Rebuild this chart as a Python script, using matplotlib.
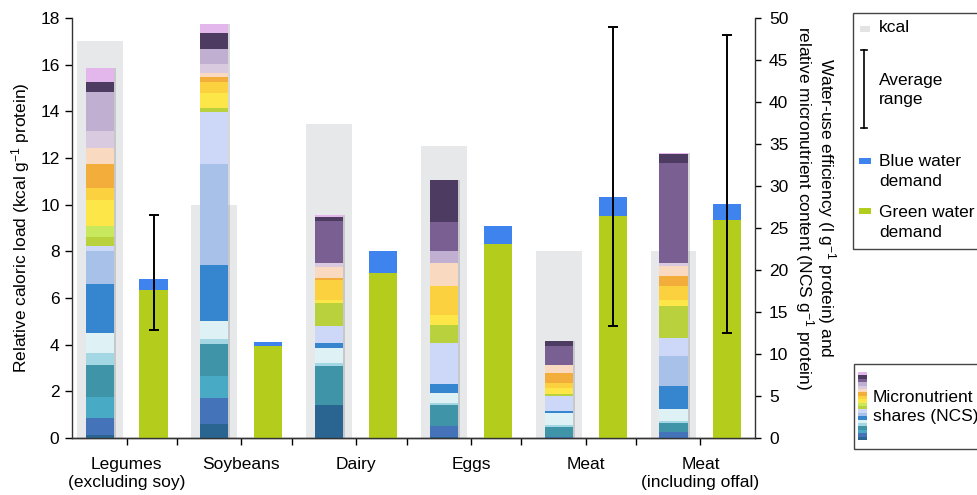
import matplotlib.pyplot as plt
from matplotlib.patches import Rectangle
from matplotlib.lines import Line2D
import numpy as np

plt.rcParams['font.family'] = ['Liberation Sans', 'DejaVu Sans']
plt.rcParams['mathtext.fontset'] = 'custom'
plt.rcParams['mathtext.rm'] = 'Liberation Sans'
plt.rcParams['mathtext.it'] = 'Liberation Sans:italic'
plt.rcParams['font.size'] = 12.5

# ===== DANE =====
foods = ['Legumes\n(excluding soy)', 'Soybeans', 'Dairy', 'Eggs', 'Meat',
         'Meat\n(including offal)']

# kcal na gram bialka (lewa os)
kcal = [17.0, 10.0, 13.45, 12.5, 8.0, 8.0]

# zuzycie wody (prawa os)
green_water = [17.6, 10.95, 19.6, 23.05, 26.4, 25.9]
blue_water = [1.3, 0.45, 2.7, 2.15, 2.3, 2.0]

# zakres sredni (tylko dla czesci produktow)
range_low = [12.9, None, None, None, 13.3, 12.5]
range_high = [26.5, None, None, None, 48.9, 48.0]

# udzialy mikroskladnikow (NCS), od dolu do gory
ncs_colors = ['#2a6591', '#4473b9', '#48aac5', '#3f94a7', '#a4d7e4',
              '#def2f6', '#3585cf', '#a8c1e8', '#cdd7f8', '#b9d13d',
              '#c8e85e', '#fde748', '#fcd13f', '#f2ad3a', '#f9d9c0',
              '#d9cadf', '#c1afd1', '#7a5f93', '#4e3b62', '#e3b7ec']
ncs_legumes = [0.36, 1.99, 2.57, 3.77, 1.46, 2.31, 5.83, 4.00, 0.56, 1.11,
               1.31, 3.06, 1.39, 2.89, 1.87, 2.10, 4.64, 0, 1.19, 1.60]
ncs_soy = [1.67, 3.06, 2.65, 3.77, 0.60, 2.18, 6.67, 12.02, 6.23, 0.48,
           0, 1.79, 1.31, 0.52, 0.48, 1.11, 1.75, 0, 1.90, 1.11]
ncs_dairy = [3.93, 0, 0, 4.68, 0.29, 1.79, 0.60, 0, 2.06, 2.70,
             0, 0.39, 2.38, 0.20, 1.38, 0.40, 0, 5.07, 0.40, 0.27]
ncs_eggs = [0.15, 1.27, 0, 2.50, 0.27, 1.19, 1.04, 0, 4.92, 2.10,
            0, 1.19, 3.45, 0, 2.70, 0, 1.50, 3.38, 5.04, 0]
ncs_meat = [0, 0.15, 0, 1.12, 0.27, 1.46, 0.24, 0, 1.75, 0.24,
            0, 0.68, 0.60, 1.19, 0.99, 0, 0, 2.26, 0.63, 0]
ncs_offal = [0, 0.75, 0, 1.07, 0.24, 1.36, 2.77, 3.57, 2.11, 3.85,
             0, 0.71, 1.67, 1.19, 1.19, 0.32, 0, 11.98, 1.04, 0.15]
ncs_all = [ncs_legumes, ncs_soy, ncs_dairy, ncs_eggs, ncs_meat, ncs_offal]

KCAL_COLOR = '#e7e8ea'
GREEN = '#b4cd1c'
BLUE = '#3f84ee'

W, H = 977, 495
fig = plt.figure(figsize=(W / 100, H / 100), dpi=100)
ax = fig.add_axes([72 / W, 1 - 438 / H, (755 - 72) / W, (438 - 18) / H])
ax2 = ax.twinx()

x = np.arange(len(foods))
off = 0.235
bw = 0.244

# ===== KCAL (tlo) =====
ax.bar(x - off, kcal, width=0.40, color=KCAL_COLOR, zorder=1)
ax.set_ylim(0, 18)
ax.set_yticks(range(0, 19, 2))
ax.set_xlim(-0.475, 5.475)

# ===== MIKROSKLADNIKI (stos) =====
totals = [sum(v) for v in ncs_all]
ax2.bar(x - off + 0.018, totals, width=bw, color='#7d7f82', alpha=0.3,
        zorder=1, linewidth=0)
bottoms = np.zeros(len(foods))
for k, col in enumerate(ncs_colors):
    vals = np.array([v[k] for v in ncs_all])
    ax2.bar(x - off, vals, width=bw, bottom=bottoms, color=col,
            linewidth=0, zorder=2)
    bottoms += vals

# ===== WODA =====
ax2.bar(x + off, green_water, width=bw, color=GREEN, linewidth=0, zorder=2)
ax2.bar(x + off, blue_water, width=bw, bottom=green_water, color=BLUE,
        linewidth=0, zorder=2)

for i in range(len(foods)):
    if range_low[i] is None:
        continue
    mid = (range_low[i] + range_high[i]) / 2
    half = (range_high[i] - range_low[i]) / 2
    ax2.errorbar(x[i] + off, mid, yerr=half, fmt='none', ecolor='black',
                 elinewidth=1.4, capsize=3.5, capthick=1.4, zorder=4)

ax2.set_ylim(0, 50)
ax2.set_yticks(range(0, 51, 5))

# ===== OSIE =====
ax.set_xticks(x)
ax.set_xticklabels(foods)
ax.set_xticks(x[:-1] + 0.44, minor=True)
ax.tick_params(axis='x', which='both', length=5, width=1, pad=9)
ax.tick_params(axis='y', length=5, width=1, pad=4)
ax2.tick_params(axis='y', length=4, width=1, pad=6)

for a in (ax, ax2):
    a.spines['top'].set_visible(False)
    for s in a.spines.values():
        s.set_linewidth(1)
        s.set_color('#333333')
ax.spines['right'].set_visible(False)
ax2.spines['left'].set_visible(False)

ax.set_ylabel('Relative caloric load (kcal g$^{-1}$ protein)', labelpad=6)
ax2.set_ylabel('Water-use efficiency (l g$^{-1}$ protein) and\n'
               'relative micronutrient content (NCS g$^{-1}$ protein)',
               rotation=270, va='bottom', labelpad=3, multialignment='center',
               linespacing=0.95)
ax2.yaxis.label.set_y(0.548)

# ===== LEGENDA (wspolrzedne figury w pikselach) =====
def fx(px):
    return px / W

def fy(py):
    return 1 - py / H

box_kw = dict(transform=fig.transFigure, fill=False, edgecolor='#444444',
              linewidth=1)
fig.add_artist(Rectangle((fx(853), fy(249)), fx(140), (249 - 13) / H, **box_kw))
fig.add_artist(Rectangle((fx(854), fy(449)), fx(140), (449 - 364) / H, **box_kw))

fig.add_artist(Rectangle((fx(860), fy(31.5)), fx(10), 6 / H,
                         transform=fig.transFigure, color='#e3e3e3', lw=0))
fig.text(fx(879), fy(28), 'kcal', va='center', ha='left')

fig.add_artist(Line2D([fx(864), fx(864)], [fy(50), fy(128)],
                      transform=fig.transFigure, color='black', lw=1.2))
for yy in (50, 128):
    fig.add_artist(Line2D([fx(861), fx(867)], [fy(yy), fy(yy)],
                          transform=fig.transFigure, color='black', lw=1.2))
fig.text(fx(879), fy(90), 'Average\nrange', va='center', ha='left',
         linespacing=1.35)

fig.add_artist(Rectangle((fx(859), fy(164)), fx(12), 6 / H,
                         transform=fig.transFigure, color=BLUE, lw=0))
fig.text(fx(879), fy(171.5), 'Blue water\ndemand', va='center', ha='left',
         linespacing=1.35)
fig.add_artist(Rectangle((fx(859), fy(214)), fx(12), 6 / H,
                         transform=fig.transFigure, color=GREEN, lw=0))
fig.text(fx(879), fy(222.5), 'Green water\ndemand', va='center', ha='left',
         linespacing=1.35)

# pasek kolorow NCS
strip = fig.add_axes([fx(858), fy(440), fx(9), (440 - 372) / H])
strip.bar(0, np.ones(len(ncs_colors)), bottom=np.arange(len(ncs_colors)),
          width=1, color=ncs_colors, linewidth=0)
strip.set_xlim(-0.5, 0.5)
strip.set_ylim(0, len(ncs_colors))
strip.axis('off')
fig.text(fx(873), fy(407), 'Micronutrient\nshares (NCS)', va='center',
         ha='left', linespacing=1.35)

plt.savefig('out.png', dpi=100)
